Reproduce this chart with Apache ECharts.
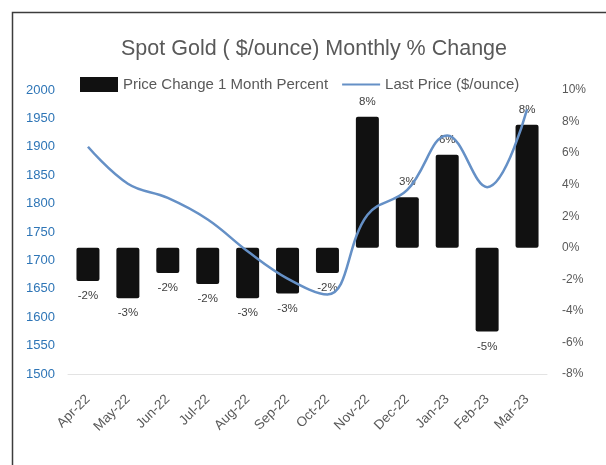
<!DOCTYPE html>
<html>
<head>
<meta charset="utf-8">
<script src="https://cdn.jsdelivr.net/npm/echarts@6/dist/echarts.min.js"></script>
<style>
  html, body { margin: 0; padding: 0; background: #ffffff; }
  #chart { width: 606px; height: 465px; }
</style>
</head>
<body>
<div id="chart"></div>
<script>
// Month labels along the category axis
const months = ['Apr-22', 'May-22', 'Jun-22', 'Jul-22', 'Aug-22', 'Sep-22',
                'Oct-22', 'Nov-22', 'Dec-22', 'Jan-23', 'Feb-23', 'Mar-23'];

// Monthly % change of spot gold (bars, right axis)
const pctChange = [-2.1, -3.2, -1.6, -2.3, -3.2, -2.9, -1.6, 8.3, 3.2, 5.9, -5.3, 7.8];

// Month-end spot gold price in $/ounce (line, left axis)
const lastPrice = [1900, 1835, 1810, 1772, 1716, 1668, 1640, 1780, 1824, 1920, 1829, 1966];

const textGray = '#595959';
const font = "'Liberation Sans', Arial, sans-serif";

const chart = echarts.init(document.getElementById('chart'), null, { renderer: 'canvas' });

// Labels sit beyond the end of each bar: above for gains, below for losses
const barData = pctChange.map(v => ({
  value: v,
  label: { position: v >= 0 ? 'top' : 'bottom' }
}));

chart.setOption({
  backgroundColor: '#ffffff',
  animation: false,
  textStyle: { fontFamily: font },
  title: {
    text: 'Spot Gold ( $/ounce) Monthly % Change',
    left: 121,
    top: 38,
    padding: 0,
    textStyle: { fontFamily: font, fontSize: 21.5, fontWeight: 'normal', color: textGray }
  },
  legend: {
    left: 75,
    top: 72,
    itemWidth: 38,
    itemHeight: 15,
    itemGap: 13,
    textStyle: { fontFamily: font, fontSize: 15, color: textGray },
    data: [
      { name: 'Price Change 1 Month Percent', icon: 'rect' },
      { name: 'Last Price ($/ounce)', itemStyle: { opacity: 0 } }
    ]
  },
  grid: { left: 68, right: 59, top: 90, bottom: 91, containLabel: false },
  xAxis: {
    type: 'category',
    data: months,
    axisLine: { show: true, onZero: false, lineStyle: { color: '#e3e3e3', width: 1 } },
    axisTick: { show: false },
    axisLabel: { rotate: 45, margin: 23, fontSize: 13.5, color: textGray, fontFamily: font, interval: 0 }
  },
  yAxis: [
    {
      type: 'value',
      min: 1500, max: 2000, interval: 50,
      position: 'left',
      splitLine: { show: false },
      axisLine: { show: false },
      axisTick: { show: false },
      axisLabel: { fontSize: 13, color: '#2e75b6', margin: 13, fontFamily: font, formatter: v => String(v) }
    },
    {
      type: 'value',
      min: -8, max: 10, interval: 2,
      position: 'right',
      alignTicks: false,
      splitLine: { show: false },
      axisLine: { show: false },
      axisTick: { show: false },
      axisLabel: { fontSize: 12, color: textGray, margin: 15, fontFamily: font, formatter: '{value}%' }
    }
  ],
  series: [
    {
      name: 'Price Change 1 Month Percent',
      type: 'bar',
      yAxisIndex: 1,
      barWidth: 23,
      z: 2,
      itemStyle: { color: '#111111', borderRadius: 2 },
      label: {
        show: true,
        fontSize: 11.5,
        color: '#404040',
        distance: 9,
        fontFamily: font,
        formatter: p => Math.round(p.value) + '%'
      },
      data: barData
    },
    {
      name: 'Last Price ($/ounce)',
      type: 'line',
      yAxisIndex: 0,
      smooth: 0.4,
      symbol: 'none',
      z: 3,
      lineStyle: { color: '#6590c6', width: 2.5 },
      itemStyle: { color: '#6590c6' },
      data: lastPrice
    }
  ],
  graphic: [
    {
      type: 'rect',
      shape: { x: 12.5, y: 12.5, width: 700, height: 600 },
      style: { fill: null, stroke: '#3c3c3c', lineWidth: 1.5 },
      silent: true,
      z: 10
    }
  ]
});
</script>
</body>
</html>
